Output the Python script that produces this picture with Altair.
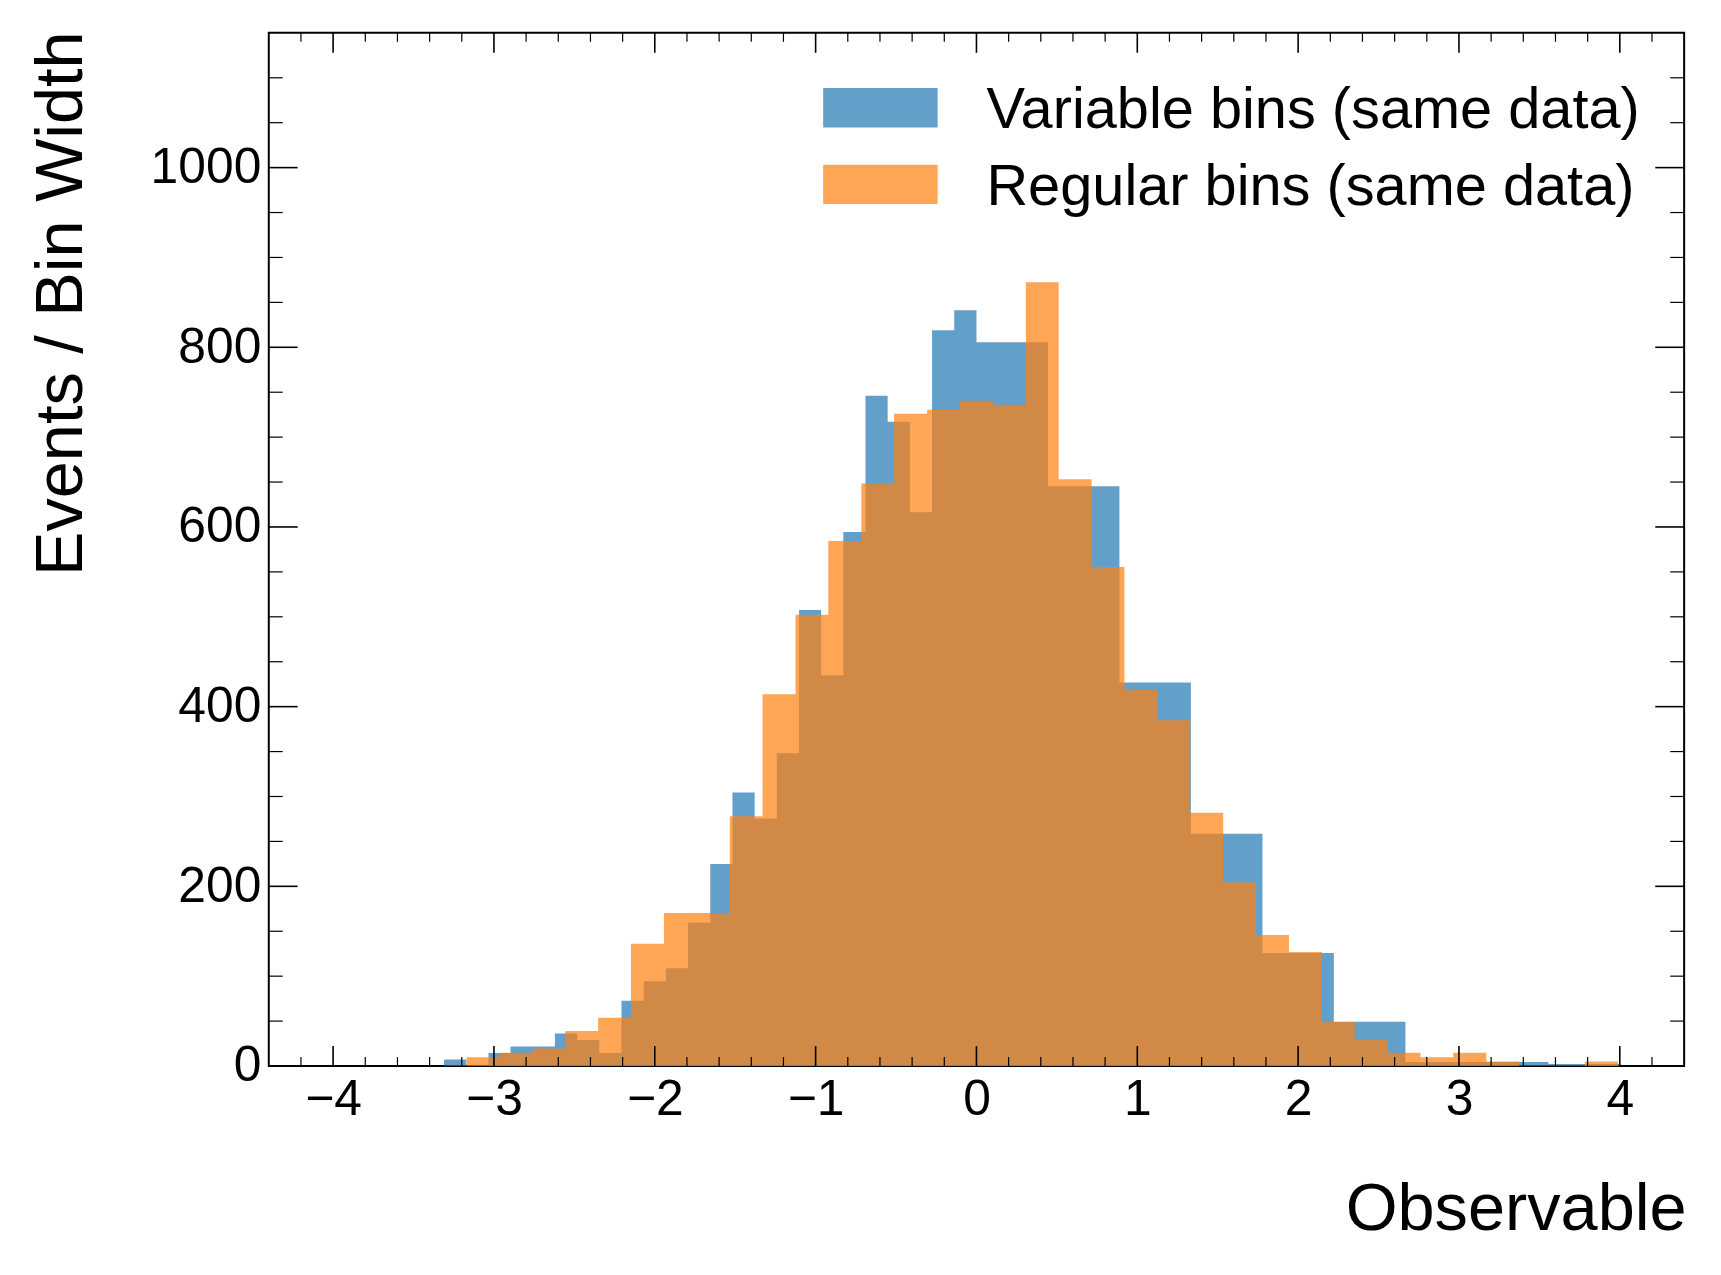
import altair as alt
import pandas as pd

# ---------------- data ----------------
series_names = ["Variable bins (same data)", "Regular bins (same data)"]
series_colors = ["#1f77b4", "#ff7f0e"]

# variable-width binning (blue)
var_edges = [-4.0, -3.862, -3.724, -3.586, -3.448, -3.31, -3.172, -3.034, -2.897,
             -2.759, -2.621, -2.483, -2.345, -2.207, -2.069, -1.931, -1.793, -1.655,
             -1.517, -1.379, -1.241, -1.103, -0.966, -0.828, -0.69, -0.552, -0.414,
             -0.276, -0.138, 0.0, 0.444, 0.889, 1.333, 1.778, 2.222, 2.667, 3.111,
             3.556, 4.0]
var_heights = [0, 0, 0, 0, 0, 7.3, 0, 14.5, 21.8, 21.8, 36.3, 29.0, 14.5, 72.5,
               94.3, 108.8, 159.5, 224.8, 304.5, 275.5, 348.0, 507.5, 435.0, 594.3,
               746.0, 717.2, 616.4, 819.1, 841.3,
               805.7, 645.2, 427.0, 258.6, 125.7, 49.3, 4.5, 4.5, 2.3]

# regular binning (orange)
reg_edges = [-3.17, -2.966, -2.761, -2.557, -2.352, -2.148, -1.943, -1.739, -1.534,
             -1.33, -1.125, -0.921, -0.716, -0.512, -0.307, -0.103, 0.102, 0.307,
             0.511, 0.716, 0.92, 1.125, 1.329, 1.534, 1.738, 1.943, 2.147, 2.352,
             2.556, 2.761, 2.965, 3.17, 3.374, 3.579, 3.783, 3.988]
reg_heights = [9.8, 14.7, 19.6, 39.1, 53.8, 136.0, 170.2, 170.2, 278.0, 413.7,
               502.3, 584.3, 648.5, 726.1, 730.5, 740.5, 736.0, 872.3, 653.0, 555.5,
               419.2, 384.9, 281.9, 204.4, 145.7, 126.8, 48.9, 29.3, 14.7, 9.8,
               14.7, 4.9, 0, 0, 4.9]

x_major = [-4, -3, -2, -1, 0, 1, 2, 3, 4]
x_minor = [-4.2, -3.8, -3.6, -3.4, -3.2, -2.8, -2.6, -2.4, -2.2, -1.8, -1.6, -1.4,
           -1.2, -0.8, -0.6, -0.4, -0.2, 0.2, 0.4, 0.6, 0.8, 1.2, 1.4, 1.6, 1.8,
           2.2, 2.4, 2.6, 2.8, 3.2, 3.4, 3.6, 3.8, 4.2]
y_major = [0, 200, 400, 600, 800, 1000]
y_minor = [50, 100, 150, 250, 300, 350, 450, 500, 550, 650, 700, 750, 850, 900,
           950, 1050, 1100]

x_title = "Observable"
y_title = "Events / Bin Width"

W, H = 1422, 1038
FONT = "Liberation Sans"
xscale = alt.Scale(domain=[-4.4, 4.4], nice=False, zero=False)
yscale = alt.Scale(domain=[0, 1150], nice=False, zero=False)

x_axis = alt.Axis(values=x_major, format="d", ticks=False, domain=False, grid=False,
                  labelFontSize=50, labelPadding=9, labelColor="black", labelFont=FONT,
                  labelFlush=False, labelOverlap=False,
                  title=x_title, titleFont=FONT, titleFontSize=67,
                  titleFontWeight="normal", titleColor="black", titleAlign="right",
                  titleBaseline="alphabetic", titleX=W + 2, titleY=164)
y_axis = alt.Axis(values=y_major, format="d", ticks=False, domain=False, grid=False,
                  labelFontSize=50, labelPadding=8, labelColor="black", labelFont=FONT,
                  labelFlush=False, labelOverlap=False,
                  title=y_title, titleFont=FONT, titleFontSize=67,
                  titleFontWeight="normal", titleColor="black", titleAngle=270,
                  titleAlign="right", titleBaseline="alphabetic", titleX=-188, titleY=-2)


def hist_layer(edges, heights, color):
    # step outline: each edge carries the height of the bin to its right
    df = pd.DataFrame({"x": edges, "h": list(heights) + [0]})
    return alt.Chart(df).mark_area(interpolate="step-after", opacity=0.7,
                                   color=color, strokeWidth=0).encode(
        x=alt.X("x:Q", scale=xscale, axis=x_axis),
        y=alt.Y("h:Q", scale=yscale, axis=y_axis, stack=None),
    )


blue = hist_layer(var_edges, var_heights, series_colors[0])
orange = hist_layer(reg_edges, reg_heights, series_colors[1])


def xticks(vals, length, width, top):
    base = alt.Chart(pd.DataFrame({"v": vals})).mark_rule(color="black", strokeWidth=width)
    if top:
        return base.encode(x=alt.X("v:Q", scale=xscale, axis=x_axis),
                           y=alt.value(0), y2=alt.value(length))
    return base.encode(x=alt.X("v:Q", scale=xscale, axis=x_axis),
                       y=alt.value(H), y2=alt.value(H - length))


def yticks(vals, length, width, right):
    base = alt.Chart(pd.DataFrame({"v": vals})).mark_rule(color="black", strokeWidth=width)
    if right:
        return base.encode(y=alt.Y("v:Q", scale=yscale, axis=y_axis),
                           x=alt.value(W), x2=alt.value(W - length))
    return base.encode(y=alt.Y("v:Q", scale=yscale, axis=y_axis),
                       x=alt.value(0), x2=alt.value(length))


tick_layers = [
    xticks(x_major, 20, 1.6, False), xticks(x_minor, 9, 1.2, False),
    xticks(x_major, 20, 1.6, True), xticks(x_minor, 9, 1.2, True),
    yticks(y_major, 29, 1.6, False), yticks(y_minor, 14, 1.2, False),
    yticks(y_major, 29, 1.6, True), yticks(y_minor, 14, 1.2, True),
]

# legend (patch + label per row)
legend_layers = []
row_tops = [55.5, 132.5]
for name, col, top in zip(series_names, series_colors, row_tops):
    d = alt.Data(values=[{"label": name}])
    legend_layers.append(
        alt.Chart(d).mark_rect(color=col, opacity=0.7).encode(
            x=alt.value(557), x2=alt.value(672), y=alt.value(top), y2=alt.value(top + 39.5)))
    legend_layers.append(
        alt.Chart(d).mark_text(align="left", baseline="alphabetic", font=FONT,
                               fontSize=58, color="black").encode(
            x=alt.value(721), y=alt.value(top + 40), text="label:N"))

chart = alt.layer(blue, orange, *tick_layers, *legend_layers).properties(
    width=W, height=H,
    padding={"left": 262, "top": 22, "right": 29, "bottom": 207},
    autosize=alt.AutoSizeParams(type="none"),
).configure(background="white").configure_view(stroke="black", strokeWidth=2)

chart.save("out.html", embed_options={"renderer": "svg", "actions": False})
